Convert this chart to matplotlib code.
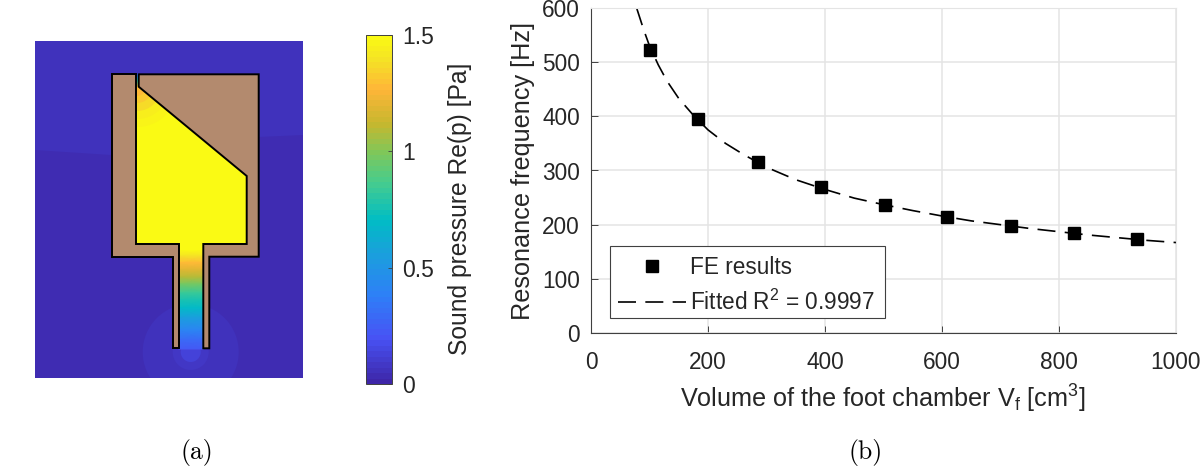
import matplotlib
matplotlib.use('Agg')
import matplotlib.pyplot as plt
import numpy as np
from matplotlib.cm import ScalarMappable
from matplotlib.colors import LinearSegmentedColormap, Normalize
from matplotlib.patches import Circle, Polygon, Rectangle

plt.rcParams['font.family'] = ['Liberation Sans', 'DejaVu Sans']
plt.rcParams['mathtext.fontset'] = 'custom'
plt.rcParams['mathtext.rm'] = 'Liberation Sans'

W, H = 1200, 466

# (b) values
fe_volume = [101, 183, 286, 394, 502, 609, 718, 826, 934]
fe_freq = [523, 395, 316, 269, 237, 215, 198, 184, 173]
fit_volume = [78, 90, 100, 115, 130, 150, 175, 200, 230, 260, 300, 350, 400, 450, 500,
              550, 600, 650, 700, 750, 800, 850, 900, 950, 1000]
fit_freq = [600, 560, 530, 495, 465, 433, 402, 375, 350, 330, 306, 283, 265, 249, 237,
            226, 216, 207, 200, 193, 187, 181, 176, 171, 167]

# (a) pressure field, lengths in reference pixels
left_wall = [(135.7, 74.3), (111.7, 74.3), (111.7, 256.7), (173.3, 256.7), (173.3, 348.3),
             (178.7, 348.3), (178.7, 244), (135.7, 244)]
right_wall = [(138.7, 74.3), (258.7, 74.3), (258.7, 256.7), (209.3, 256.7), (209.3, 348.3),
              (203.3, 348.3), (203.3, 244), (246.7, 244), (246.7, 176), (138.7, 86.7)]
cavity = [(135.7, 86.7), (138.7, 86.7), (246.7, 176), (246.7, 244), (135.7, 244)]
upper_air = [(35, 41), (303, 41), (303, 135), (258, 137), (111, 155), (35, 150)]
neck_y = [244, 250, 256, 263, 270, 277, 284, 293, 300, 308, 318, 330, 340, 349]
neck_p = [1.5, 1.48, 1.4, 1.27, 1.18, 1.08, 0.97, 0.84, 0.76, 0.70, 0.56, 0.40, 0.3, 0.22]
slit_y = [74, 78, 82, 87]
slit_p = [0.25, 0.55, 0.85, 1.25]
corner_r = [40, 32, 24, 16, 9]
corner_p = [1.47, 1.43, 1.38, 1.32, 1.27]
foot_r = [48, 18, 10]
foot_p = [0.065, 0.09, 0.14]
air_low = 0.045
air_high = 0.052

cb_ticks = [0, 0.5, 1, 1.5]
cb_labels = ['0', '0.5', '1', '1.5']

parula = LinearSegmentedColormap.from_list('parula', [
    (0, (0.2422, 0.1504, 0.6603)), (0.125, (0.2810, 0.3228, 0.9578)), (0.25, (0.18, 0.5, 0.97)),
    (0.375, (0.1, 0.63, 0.86)), (0.47, (0.0, 0.74, 0.77)), (0.58, (0.28, 0.8, 0.55)),
    (0.667, (0.5, 0.78, 0.35)), (0.75, (0.78, 0.72, 0.18)), (0.85, (1.0, 0.71, 0.22)),
    (0.93, (0.96, 0.88, 0.15)), (1, (0.98, 0.98, 0.08))], N=64)
norm = Normalize(0, 1.5)


def px_axes(x0, y0, x1, y1):
    return fig.add_axes([x0 / W, 1 - y1 / H, (x1 - x0) / W, (y1 - y0) / H])


def strip(ax, x0, x1, y, p):
    c = np.column_stack([p, p])
    ax.pcolormesh([x0, x1], y, c, cmap=parula, norm=norm, shading='gouraud', zorder=2)


fig = plt.figure(figsize=(W / 100, H / 100), dpi=100)

# field plot
ax1 = px_axes(35, 41, 303, 378)
ax1.set_xlim(35, 303)
ax1.set_ylim(378, 41)
ax1.set_facecolor(parula(norm(air_low)))
ax1.set_xticks([])
ax1.set_yticks([])
for s in ax1.spines.values():
    s.set_visible(False)
ax1.add_patch(Polygon(upper_air, fc=parula(norm(air_high)), ec='none', zorder=1))
for r, p in zip(foot_r, foot_p):
    ax1.add_patch(Circle((190.7, 352), r, fc=parula(norm(p)), ec='none', zorder=1))
ax1.add_patch(Circle((137, 70), 10, fc=parula(norm(foot_p[0])), ec='none', zorder=1))

cav = Polygon(cavity, fc=parula(norm(1.5)), ec='none', zorder=2)
ax1.add_patch(cav)
for r, p in zip(corner_r, corner_p):
    glow = Circle((137, 87), r, fc=parula(norm(p)), ec='none', zorder=2.5)
    ax1.add_patch(glow)
    glow.set_clip_path(cav)
strip(ax1, 178.7, 203.3, neck_y, neck_p)
strip(ax1, 135.7, 138.7, slit_y, slit_p)
for wall in (left_wall, right_wall):
    ax1.add_patch(Polygon(wall, fc='#b38a6e', ec='black', lw=1.4, joinstyle='miter', zorder=3))

# colorbar
cax = px_axes(365.5, 35, 391.5, 384)
cb = fig.colorbar(ScalarMappable(norm=norm, cmap=parula), cax=cax)
cb.set_ticks(cb_ticks)
cb.set_ticklabels(cb_labels)
cb.ax.tick_params(labelsize=16.5, direction='in', length=3, width=0.6, color='#404040',
                  labelcolor='#262626', pad=8)
cb.outline.set_edgecolor('#404040')
cb.outline.set_linewidth(0.7)
fig.text(460 / W, 1 - 209 / H, 'Sound pressure Re(p) [Pa]', rotation=90, ha='center', va='center',
         fontsize=17.7, color='#262626')

# resonance plot
ax2 = px_axes(591, 8, 1176, 333)
ax2.plot(fit_volume, fit_freq, color='black', lw=1.2, dashes=(10.8, 5.6), label='Fitted R$^{\\mathregular{2}}$ = 0.9997')
ax2.plot(fe_volume, fe_freq, ls='none', marker='s', ms=8.5, color='black', label='FE results')
ax2.set_xlim(0, 1000)
ax2.set_ylim(0, 600)
ax2.set_xticks(np.arange(0, 1001, 200))
ax2.set_yticks(np.arange(0, 601, 100))
ax2.grid(color='#e4e4e4', lw=1.1)
ax2.set_axisbelow(True)
ax2.spines['top'].set_color('#e4e4e4')
ax2.spines['right'].set_color('#e4e4e4')
ax2.spines['left'].set_color('#404040')
ax2.spines['bottom'].set_color('#404040')
ax2.tick_params(labelsize=16.3, direction='in', length=5, width=0.7, color='#404040',
                labelcolor='#262626')
ax2.tick_params(axis='x', pad=13)
ax2.tick_params(axis='y', pad=8)
ax2.set_xlabel('Volume of the foot chamber V$_{\\mathregular{f}}$ [cm$^{\\mathregular{3}}$]',
               fontsize=18.2, color='#262626')
ax2.set_ylabel('Resonance frequency [Hz]', fontsize=18.2, color='#262626')
ax2.xaxis.set_label_coords(0.498, -0.154)
ax2.yaxis.set_label_coords(-0.096, 0.5)

# legend frame drawn by hand, the text sits lower in it than legend() would put it
ax2.add_patch(Rectangle(((610 - 591) / 585, (333 - 318) / 325), 275 / 585, 72 / 325, transform=ax2.transAxes,
                        fc='white', ec='#404040', lw=0.8, zorder=4))
h, l = ax2.get_legend_handles_labels()
leg = ax2.legend(h[::-1], l[::-1], loc='lower left', bbox_to_anchor=((610 - 591) / 585, (333 - 323) / 325),
                 borderaxespad=0, fontsize=16.3, handlelength=3.0, numpoints=1, frameon=False,
                 labelspacing=0.5, handletextpad=0.2, borderpad=0.35, labelcolor='#262626')
leg.set_zorder(5)

fig.text(197 / W, 1 - 453 / H, '(a)', family='cmr10', fontsize=18.5, ha='center', va='center')
fig.text(866 / W, 1 - 453 / H, '(b)', family='cmr10', fontsize=18.5, ha='center', va='center')

fig.savefig('out.png', dpi=100)
